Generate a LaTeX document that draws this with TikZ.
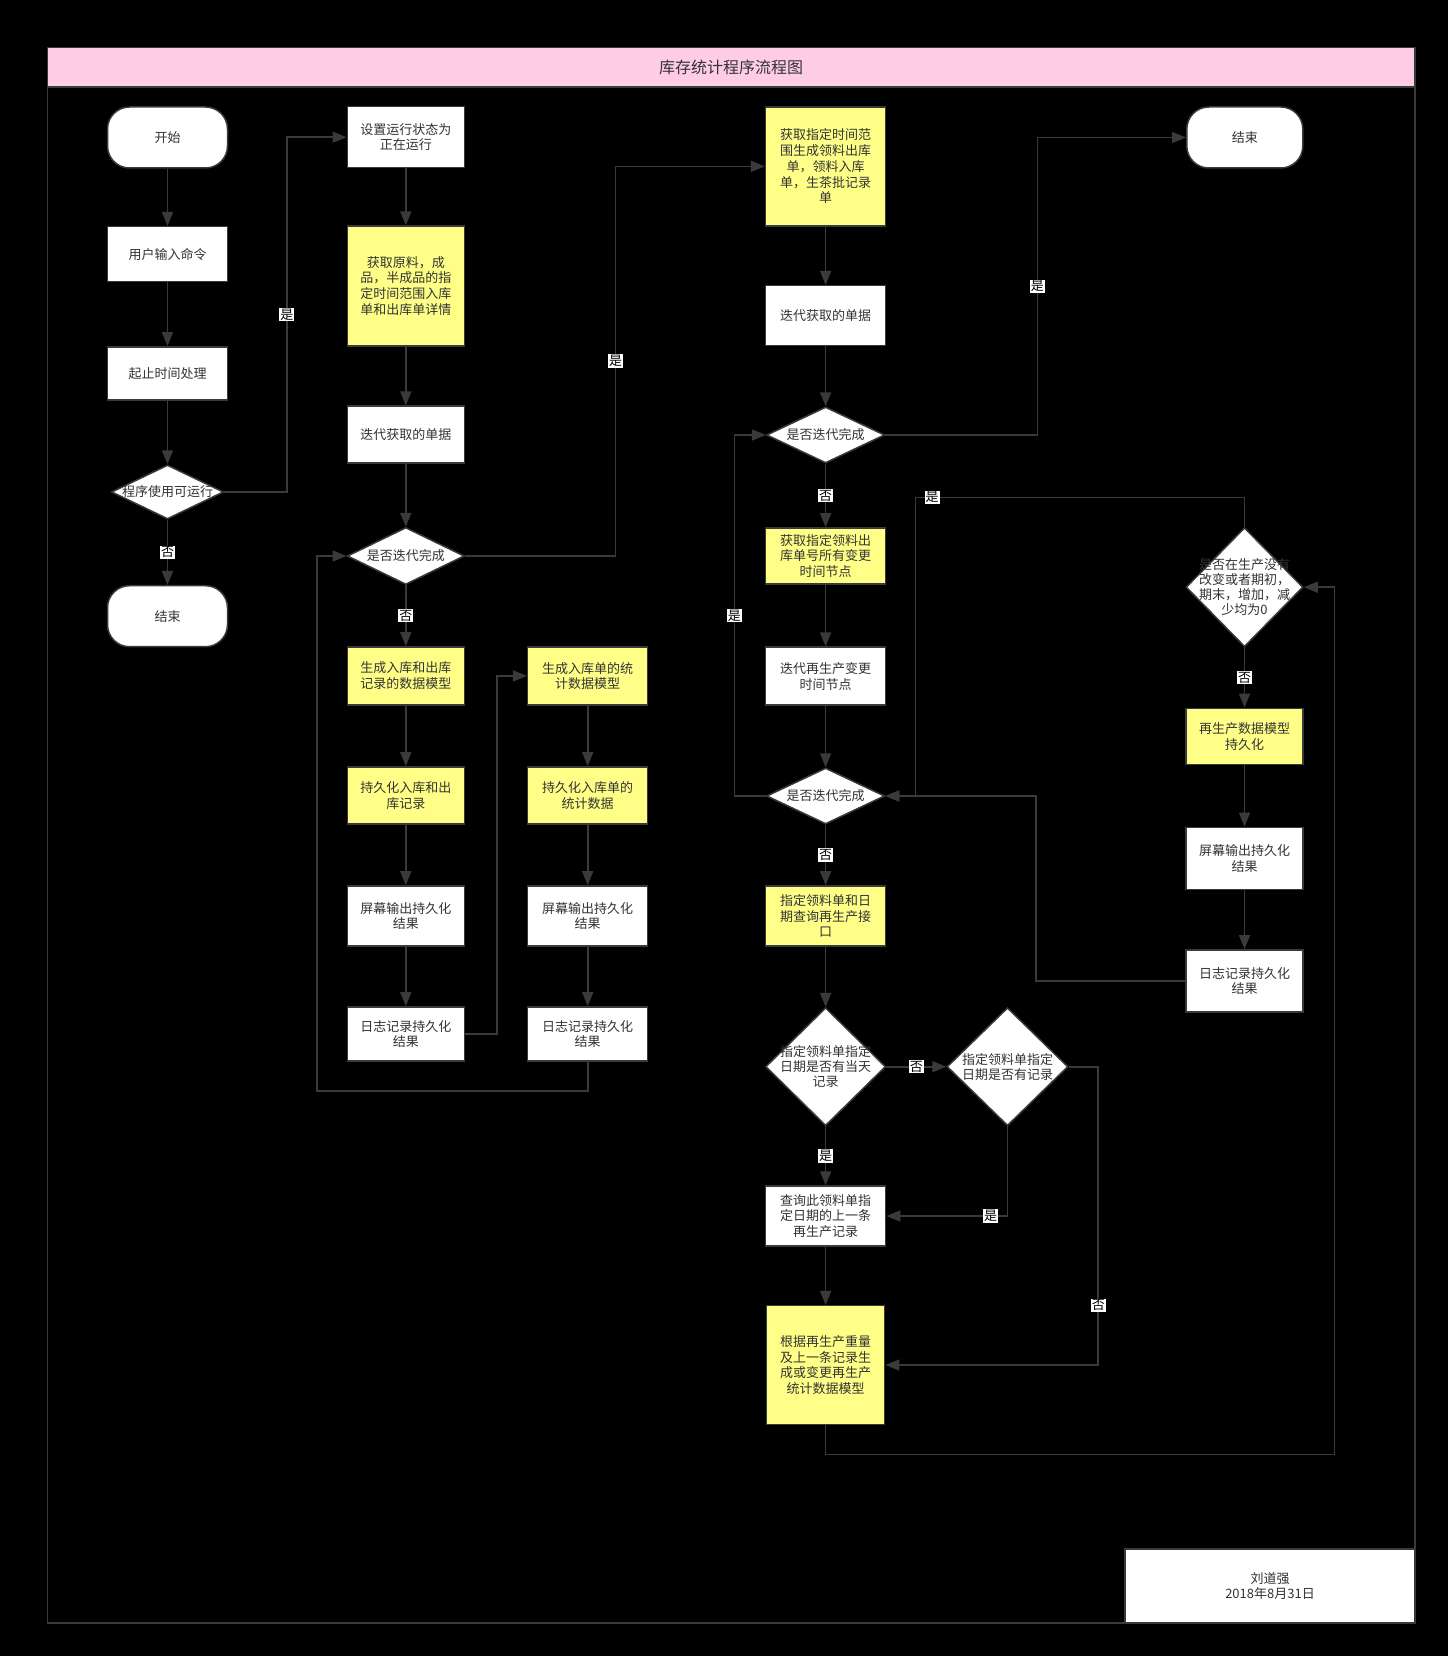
\documentclass[tikz,border=0pt]{standalone}
\usepackage{fontspec}
\newfontfamily\cjk{Noto Sans CJK SC}
\usetikzlibrary{arrows.meta,shapes.geometric}

\definecolor{linegray}{RGB}{58,58,58}
\definecolor{txtgray}{RGB}{51,51,51}
\definecolor{notey}{RGB}{255,255,136}
\definecolor{bandpink}{RGB}{255,204,230}

\tikzset{
  box/.style={draw=linegray, line width=1.5pt, fill=white, text=txtgray, align=center, inner sep=2pt, font=\cjk\fontsize{13}{15.7}\selectfont},
  ybox/.style={box, fill=notey},
  term/.style={box, rounded corners=22pt},
  dia/.style={diamond, draw=linegray, line width=1.5pt, fill=white, inner sep=0pt},
  dlbl/.style={text=txtgray, align=center, inner sep=0pt, font=\cjk\fontsize{13}{15.2}\selectfont},
  flow/.style={draw=linegray, line width=1.6pt, -{Triangle[length=14pt,width=11pt]}},
  lbl/.style={fill=white, text=black, inner sep=1pt, font=\cjk\fontsize{13}{15}\selectfont},
}

\begin{document}
\begin{tikzpicture}[x=1pt,y=-1pt]
\useasboundingbox (0,0) rectangle (1448,1656);
\fill[black] (0,0) rectangle (1448,1656);

% frame and title
\draw[linegray, line width=1.5pt] (47.5,47.5) rectangle (1415,1623);
\draw[fill=bandpink, draw=linegray, line width=1.5pt] (47.5,47.5) rectangle (1415,87);
\node[text=txtgray, font=\cjk\fontsize{16}{18}\selectfont] (title) at (731,67.5) {库存统计程序流程图};

% column 1
\node[term, minimum width=120pt, minimum height=61pt] (start) at (167.5,137.5) {开始};
\node[box, minimum width=120pt, minimum height=55pt] (input) at (167.5,254.2) {用户输入命令};
\node[box, minimum width=120pt, minimum height=53pt] (tproc) at (167.5,373.4) {起止时间处理};
\node[dia, minimum width=112pt, minimum height=54pt, label={[dlbl]center:程序使用可运行}] (canrun) at (167.5,492) {};
\node[term, minimum width=120pt, minimum height=61pt] (end1) at (167.5,616.2) {结束};

% column 2
\node[box, minimum width=117pt, minimum height=61pt] (setrun) at (405.8,137.2) {设置运行状态为\\正在运行};
\node[ybox, minimum width=117pt, minimum height=119.7pt] (fetch) at (405.8,285.9) {获取原料，成\\品，半成品的指\\定时间范围入库\\单和出库单详情};
\node[box, minimum width=117pt, minimum height=57pt] (iter1) at (405.8,434.7) {迭代获取的单据};
\node[dia, minimum width=117pt, minimum height=57pt, label={[dlbl]center:是否迭代完成}] (chk1) at (405.8,556) {};
\node[ybox, minimum width=117pt, minimum height=58pt] (genio) at (405.8,675.9) {生成入库和出库\\记录的数据模型};
\node[ybox, minimum width=117pt, minimum height=57pt] (saveio) at (405.8,795.4) {持久化入库和出\\库记录};
\node[box, minimum width=117pt, minimum height=60pt] (scrio) at (405.8,915.9) {屏幕输出持久化\\结果};
\node[box, minimum width=117pt, minimum height=54pt] (logio) at (405.8,1033.9) {日志记录持久化\\结果};

% column 3
\node[ybox, minimum width=120pt, minimum height=58pt] (genst) at (587.7,675.9) {生成入库单的统\\计数据模型};
\node[ybox, minimum width=120pt, minimum height=57pt] (savest) at (587.7,795.4) {持久化入库单的\\统计数据};
\node[box, minimum width=120pt, minimum height=60pt] (scrst) at (587.7,915.9) {屏幕输出持久化\\结果};
\node[box, minimum width=120pt, minimum height=54pt] (logst) at (587.7,1033.9) {日志记录持久化\\结果};

% column 4
\node[ybox, minimum width=120pt, minimum height=119pt] (fetchbill) at (825.6,166.4) {获取指定时间范\\围生成领料出库\\单，领料入库\\单，生茶批记录\\单};
\node[box, minimum width=120pt, minimum height=60pt] (iter2) at (825.6,315.7) {迭代获取的单据};
\node[dia, minimum width=118pt, minimum height=56pt, label={[dlbl]center:是否迭代完成}] (chk2) at (825.6,435) {};
\node[ybox, minimum width=120pt, minimum height=56pt] (stamps) at (825.6,555.9) {获取指定领料出\\库单号所有变更\\时间节点};
\node[box, minimum width=120pt, minimum height=58pt] (iterre) at (825.6,676.2) {迭代再生产变更\\时间节点};
\node[dia, minimum width=118pt, minimum height=56pt, label={[dlbl]center:是否迭代完成}] (chk3) at (825.6,796) {};
\node[ybox, minimum width=120pt, minimum height=60pt] (query) at (825.6,915.9) {指定领料单和日\\期查询再生产接\\口};
\node[dia, minimum width=120pt, minimum height=118pt, label={[dlbl]center:{指定领料单指定\\日期是否有当天\\记录}}] (today) at (825.6,1066.7) {};
\node[dia, minimum width=121pt, minimum height=118pt, label={[dlbl]center:{指定领料单指定\\日期是否有记录}}] (anyrec) at (1007.5,1066.7) {};
\node[box, minimum width=120pt, minimum height=60pt] (prev) at (825.6,1216) {查询此领料单指\\定日期的上一条\\再生产记录};
\node[ybox, minimum width=118pt, minimum height=118.6pt] (build) at (825.6,1365) {根据再生产重量\\及上一条记录生\\成或变更再生产\\统计数据模型};

% column 5
\node[term, minimum width=116pt, minimum height=61pt] (end2) at (1244.8,137.5) {结束};
\node[dia, minimum width=117pt, minimum height=119pt, label={[dlbl]center:{是否在生产没有\\改变或者期初，\\期末，增加，减\\少均为0}}] (zero) at (1244.5,587.2) {};
\node[ybox, minimum width=117pt, minimum height=56pt] (savere) at (1244.5,736.3) {再生产数据模型\\持久化};
\node[box, minimum width=117pt, minimum height=62pt] (scrre) at (1244.5,858.3) {屏幕输出持久化\\结果};
\node[box, minimum width=117pt, minimum height=62pt] (logre) at (1244.5,980.9) {日志记录持久化\\结果};

\node[box, minimum width=290pt, minimum height=74pt] (sign) at (1270,1586) {刘道强\\2018年8月31日};

% connectors
\draw[flow] (start) -- (input);
\draw[flow] (input) -- (tproc);
\draw[flow] (tproc) -- (canrun);
\draw[flow] (canrun) -- (end1) node[lbl, midway]{否};
\draw[flow] (canrun.east) -- ++(62.5,0) |- (setrun.west) node[lbl, pos=0.25]{是};

\draw[flow] (setrun) -- (fetch);
\draw[flow] (fetch) -- (iter1);
\draw[flow] (iter1) -- (chk1);
\draw[flow] (chk1) -- (genio) node[lbl, midway]{否};
\draw[flow] (genio) -- (saveio);
\draw[flow] (saveio) -- (scrio);
\draw[flow] (scrio) -- (logio);
\draw[flow] (logio.east) -- ++(32,0) |- (genst.west);
\draw[flow] (genst) -- (savest);
\draw[flow] (savest) -- (scrst);
\draw[flow] (scrst) -- (logst);
\draw[flow] (logst.south) |- (316.7,1091) |- (chk1.west);
\draw[flow] (chk1.east) -- ++(150.5,0) |- (fetchbill.west) node[lbl, pos=0.25]{是};

\draw[flow] (fetchbill) -- (iter2);
\draw[flow] (iter2) -- (chk2);
\draw[flow] (chk2.east) -- ++(152,0) |- (end2.west) node[lbl, pos=0.25]{是};
\draw[flow] (chk2) -- (stamps) node[lbl, midway]{否};
\draw[flow] (stamps) -- (iterre);
\draw[flow] (iterre) -- (chk3);
\draw[flow] (chk3.west) -- ++(-31.5,0) |- (chk2.west) node[lbl, pos=0.25]{是};
\draw[flow] (chk3) -- (query) node[lbl, midway]{否};
\draw[flow] (query) -- (today);
\draw[flow] (today) -- (prev) node[lbl, midway]{是};
\draw[flow] (today) -- (anyrec) node[lbl, midway]{否};
\draw[flow] (anyrec.south) |- (prev.east) node[lbl, pos=0.57]{是};
\draw[flow] (anyrec.east) -- ++(29.5,0) |- (build.east) node[lbl, pos=0.4]{否};
\draw[flow] (prev) -- (build);
\draw[flow] (build.south) |- (1334.3,1454.3) |- (zero.east);

\draw[flow] (zero.north) |- (915.6,497.3) node[lbl, pos=0.975]{是} |- (chk3.east);
\draw[flow] (zero) -- (savere) node[lbl, midway]{否};
\draw[flow] (savere) -- (scrre);
\draw[flow] (scrre) -- (logre);
\draw[flow] (logre.west) -- ++(-149,0) |- (chk3.east);

\end{tikzpicture}
\end{document}
